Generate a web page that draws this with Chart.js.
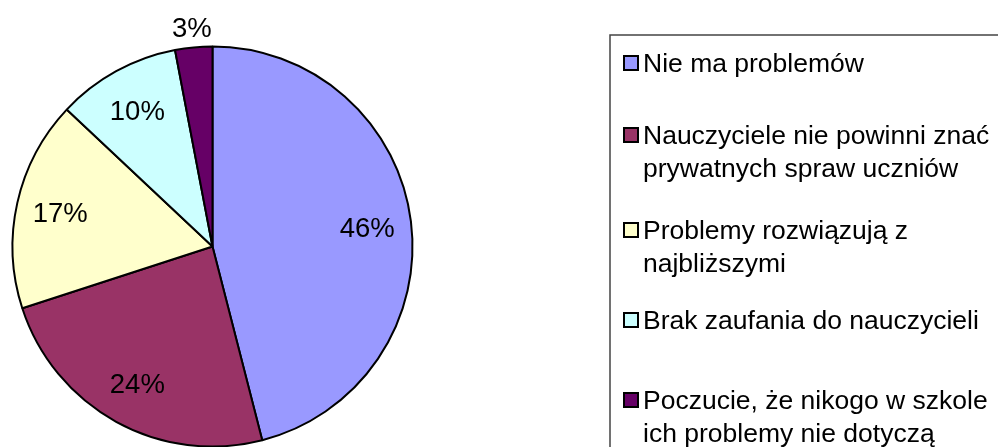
<!DOCTYPE html>
<html>
<head>
<meta charset="utf-8">
<script src="https://cdn.jsdelivr.net/npm/chart.js@4/dist/chart.umd.min.js"></script>
<style>
  html, body { margin: 0; padding: 0; background: #fff; }
  #c { display: block; }
</style>
</head>
<body>
<canvas id="c" width="998" height="447"></canvas>
<script>
// ---- data ----
const categories = [
  "Nie ma problemów",
  "Nauczyciele nie powinni znać prywatnych spraw uczniów",
  "Problemy rozwiązują z najbliższymi",
  "Brak zaufania do nauczycieli",
  "Poczucie, że nikogo w szkole ich problemy nie dotyczą"
];
const percentValues = [46, 24, 17, 10, 3];
const sliceColors = ["#9999FF", "#993366", "#FFFFCC", "#CCFFFF", "#660066"];

// ---- layout / style ----
const FONT = '26.5px "Liberation Sans", Arial, sans-serif';
const LABEL_FONT = '27.5px "Liberation Sans", Arial, sans-serif';
const legendBox = { x: 610, y: 35 };
const legendItemY = [63, 135, 230, 320, 400]; // centre of first line of each item
const legendLineHeight = 33;
const legendTextX = 643;
const legendSwatchX = 624;
const legendSwatchSize = 14;
const legendMaxWidth = 360;

function wrapText(ctx, text, maxWidth) {
  const words = text.split(' ');
  const lines = [];
  let cur = '';
  for (const w of words) {
    const test = cur ? cur + ' ' + w : w;
    if (cur && ctx.measureText(test).width > maxWidth) {
      lines.push(cur);
      cur = w;
    } else {
      cur = test;
    }
  }
  if (cur) lines.push(cur);
  return lines;
}

const pieLabels = {
  id: 'pieLabels',
  afterDatasetsDraw(chart) {
    const ctx = chart.ctx;
    const meta = chart.getDatasetMeta(0);
    const data = chart.data.datasets[0].data;
    ctx.save();
    ctx.font = LABEL_FONT;
    ctx.fillStyle = '#000';
    ctx.textAlign = 'center';
    ctx.textBaseline = 'alphabetic';
    meta.data.forEach((arc, i) => {
      const p = arc.getProps(['x', 'y', 'startAngle', 'endAngle', 'outerRadius'], true);
      const mid = (p.startAngle + p.endAngle) / 2;
      const r = data[i] < 5 ? p.outerRadius * 1.1 : p.outerRadius * 0.78;
      const x = p.x + Math.cos(mid) * r;
      const y = p.y + Math.sin(mid) * r;
      ctx.fillText(data[i] + '%', x, y + 10);
    });
    ctx.restore();
  }
};

const customLegend = {
  id: 'customLegend',
  afterDraw(chart) {
    const ctx = chart.ctx;
    ctx.save();
    // box
    ctx.strokeStyle = '#444';
    ctx.lineWidth = 1.5;
    ctx.strokeRect(legendBox.x, legendBox.y, chart.width + 20 - legendBox.x, chart.height + 20 - legendBox.y);
    ctx.font = FONT;
    ctx.textAlign = 'left';
    ctx.textBaseline = 'alphabetic';
    chart.data.labels.forEach((label, i) => {
      const cy = legendItemY[i];
      // swatch
      ctx.fillStyle = chart.data.datasets[0].backgroundColor[i];
      ctx.fillRect(legendSwatchX, cy - legendSwatchSize / 2, legendSwatchSize, legendSwatchSize);
      ctx.strokeStyle = '#000';
      ctx.lineWidth = 2;
      ctx.strokeRect(legendSwatchX, cy - legendSwatchSize / 2, legendSwatchSize, legendSwatchSize);
      // text
      ctx.fillStyle = '#000';
      const lines = wrapText(ctx, label, legendMaxWidth);
      lines.forEach((ln, j) => {
        ctx.fillText(ln, legendTextX, cy + 9 + j * legendLineHeight);
      });
    });
    ctx.restore();
  }
};

new Chart(document.getElementById('c'), {
  type: 'pie',
  data: {
    labels: categories,
    datasets: [{
      data: percentValues,
      backgroundColor: sliceColors,
      borderColor: '#000',
      borderWidth: 2,
      radius: 200
    }]
  },
  options: {
    responsive: false,
    animation: false,
    layout: { padding: { left: 12, right: 585, top: 46, bottom: 0 } },
    plugins: {
      legend: { display: false },
      tooltip: { enabled: false },
      title: { display: false }
    }
  },
  plugins: [pieLabels, customLegend]
});
</script>
</body>
</html>
